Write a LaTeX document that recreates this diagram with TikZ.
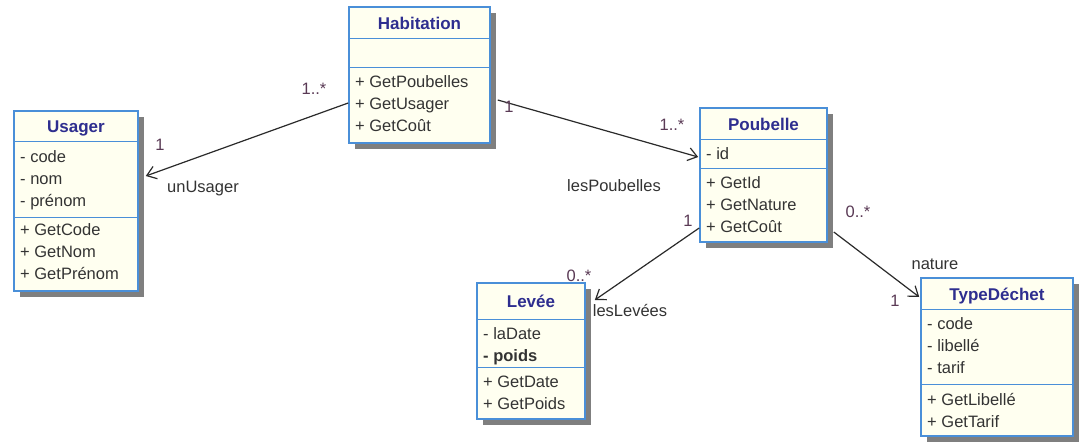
\documentclass[tikz,border=0pt]{standalone}
\usepackage{fontspec}
\setmainfont{Liberation Sans}
\usetikzlibrary{arrows.meta,shadows}
\definecolor{boxfill}{HTML}{FFFFF0}
\definecolor{boxline}{HTML}{4A8FD8}
\definecolor{shgray}{HTML}{7F7F7F}
\definecolor{titleblue}{HTML}{2E2E8F}
\definecolor{txtgray}{HTML}{333333}
\definecolor{multcol}{HTML}{5A3A55}
\definecolor{lnkcol}{HTML}{2A2A2A}
\newcommand\mbfont{\fontsize{16.5}{20}\selectfont}
\newcommand\ttlfont{\fontsize{17}{20}\selectfont\bfseries}
\begin{document}
\begin{tikzpicture}[x=1pt,y=-1pt,
  classbox/.style={draw=boxline, fill=boxfill, line width=1.6pt, inner sep=0pt,
    general shadow={fill=shgray, shadow xshift=6pt, shadow yshift=-6pt}},
  sepline/.style={draw=boxline, line width=1.4pt},
  ctitle/.style={anchor=base, inner sep=0pt, font=\ttlfont, text=titleblue},
  member/.style={anchor=base west, inner sep=0pt, font=\mbfont, text=txtgray},
  multlabel/.style={anchor=base, inner sep=0pt, font=\mbfont, text=multcol},
  rolelabel/.style={anchor=base, inner sep=0pt, font=\mbfont, text=txtgray},
  assoc/.style={draw=lnkcol, line width=1.2pt, -{Straight Barb[length=9pt,width=13pt]}}]
\fill[white] (0,0) rectangle (1080,442);
\useasboundingbox (0,0) rectangle (1080,442);

% ---------- Habitation ----------
\node[classbox, minimum width=141pt, minimum height=136pt] (hab) at (419.5,75) {};
\draw[sepline] ([yshift=-32pt]hab.north west) -- ([yshift=-32pt]hab.north east);
\draw[sepline] ([yshift=-61pt]hab.north west) -- ([yshift=-61pt]hab.north east);
\node[ctitle] (habt) at (419.5,29) {Habitation};
\node[member] (habm1) at (355,87.5) {+ GetPoubelles};
\node[member] (habm2) at (355,109.5) {+ GetUsager};
\node[member] (habm3) at (355,131.5) {+ GetCoût};

% ---------- Usager ----------
\node[classbox, minimum width=124pt, minimum height=180pt] (usa) at (76,201) {};
\draw[sepline] ([yshift=-31pt]usa.north west) -- ([yshift=-31pt]usa.north east);
\draw[sepline] ([yshift=-107pt]usa.north west) -- ([yshift=-107pt]usa.north east);
\node[ctitle] (usat) at (76,132.5) {Usager};
\node[member] (usaa1) at (20,162.5) {- code};
\node[member] (usaa2) at (20,184.5) {- nom};
\node[member] (usaa3) at (20,206.5) {- prénom};
\node[member] (usam1) at (20,235.5) {+ GetCode};
\node[member] (usam2) at (20,257.5) {+ GetNom};
\node[member] (usam3) at (20,279.5) {+ GetPrénom};

% ---------- Poubelle ----------
\node[classbox, minimum width=127pt, minimum height=134pt] (pou) at (763.5,175) {};
\draw[sepline] ([yshift=-32pt]pou.north west) -- ([yshift=-32pt]pou.north east);
\draw[sepline] ([yshift=-61pt]pou.north west) -- ([yshift=-61pt]pou.north east);
\node[ctitle] (pout) at (763.5,130) {Poubelle};
\node[member] (poua1) at (706,159.5) {- id};
\node[member] (poum1) at (706,188.5) {+ GetId};
\node[member] (poum2) at (706,210.5) {+ GetNature};
\node[member] (poum3) at (706,232.5) {+ GetCoût};

% ---------- Levée ----------
\node[classbox, minimum width=108pt, minimum height=136pt] (lev) at (531,351) {};
\draw[sepline] ([yshift=-37pt]lev.north west) -- ([yshift=-37pt]lev.north east);
\draw[sepline] ([yshift=-85pt]lev.north west) -- ([yshift=-85pt]lev.north east);
\node[ctitle] (levt) at (531,307.5) {Levée};
\node[member] (leva1) at (483,339.5) {- laDate};
\node[member, font=\mbfont\bfseries] (leva2) at (483,361.5) {- poids};
\node[member] (levm1) at (483,387.5) {+ GetDate};
\node[member] (levm2) at (483,409.5) {+ GetPoids};

% ---------- TypeDéchet ----------
\node[classbox, minimum width=152pt, minimum height=158pt] (typ) at (997,357) {};
\draw[sepline] ([yshift=-32pt]typ.north west) -- ([yshift=-32pt]typ.north east);
\draw[sepline] ([yshift=-107pt]typ.north west) -- ([yshift=-107pt]typ.north east);
\node[ctitle] (typt) at (997,300) {TypeDéchet};
\node[member] (typa1) at (927,329.5) {- code};
\node[member] (typa2) at (927,351.5) {- libellé};
\node[member] (typa3) at (927,373.5) {- tarif};
\node[member] (typm1) at (927,405.5) {+ GetLibellé};
\node[member] (typm2) at (927,427.5) {+ GetTarif};

% ---------- Associations ----------
\draw[assoc] ([yshift=-28pt]hab.west) -- ([xshift=7pt,yshift=25pt]usa.east);
\draw[assoc] ([xshift=7pt,yshift=-25pt]hab.east) -- ([xshift=-1pt,yshift=18pt]pou.west);
\draw[assoc] ([yshift=-53pt]pou.west) -- ([xshift=9pt,yshift=51pt]lev.east);
\draw[assoc] ([xshift=6pt,yshift=-57pt]pou.east) -- ([xshift=-1pt,yshift=60pt]typ.west);

% ---------- Labels ----------
\node[multlabel] (l1) at (314,94.5) {1..*};
\node[multlabel] (l2) at (160,150.5) {1};
\node[rolelabel] (l3) at (203,192.5) {unUsager};
\node[multlabel] (l4) at (509,112.5) {1};
\node[multlabel] (l5) at (672,130.5) {1..*};
\node[rolelabel] (l6) at (614,191.5) {lesPoubelles};
\node[multlabel] (l7) at (688,226.5) {1};
\node[multlabel] (l8) at (579,281.5) {0..*};
\node[rolelabel] (l9) at (630,316.5) {lesLevées};
\node[multlabel] (l10) at (858,217.5) {0..*};
\node[rolelabel] (l11) at (935,269.5) {nature};
\node[multlabel] (l12) at (895,306.5) {1};
\end{tikzpicture}
\end{document}
